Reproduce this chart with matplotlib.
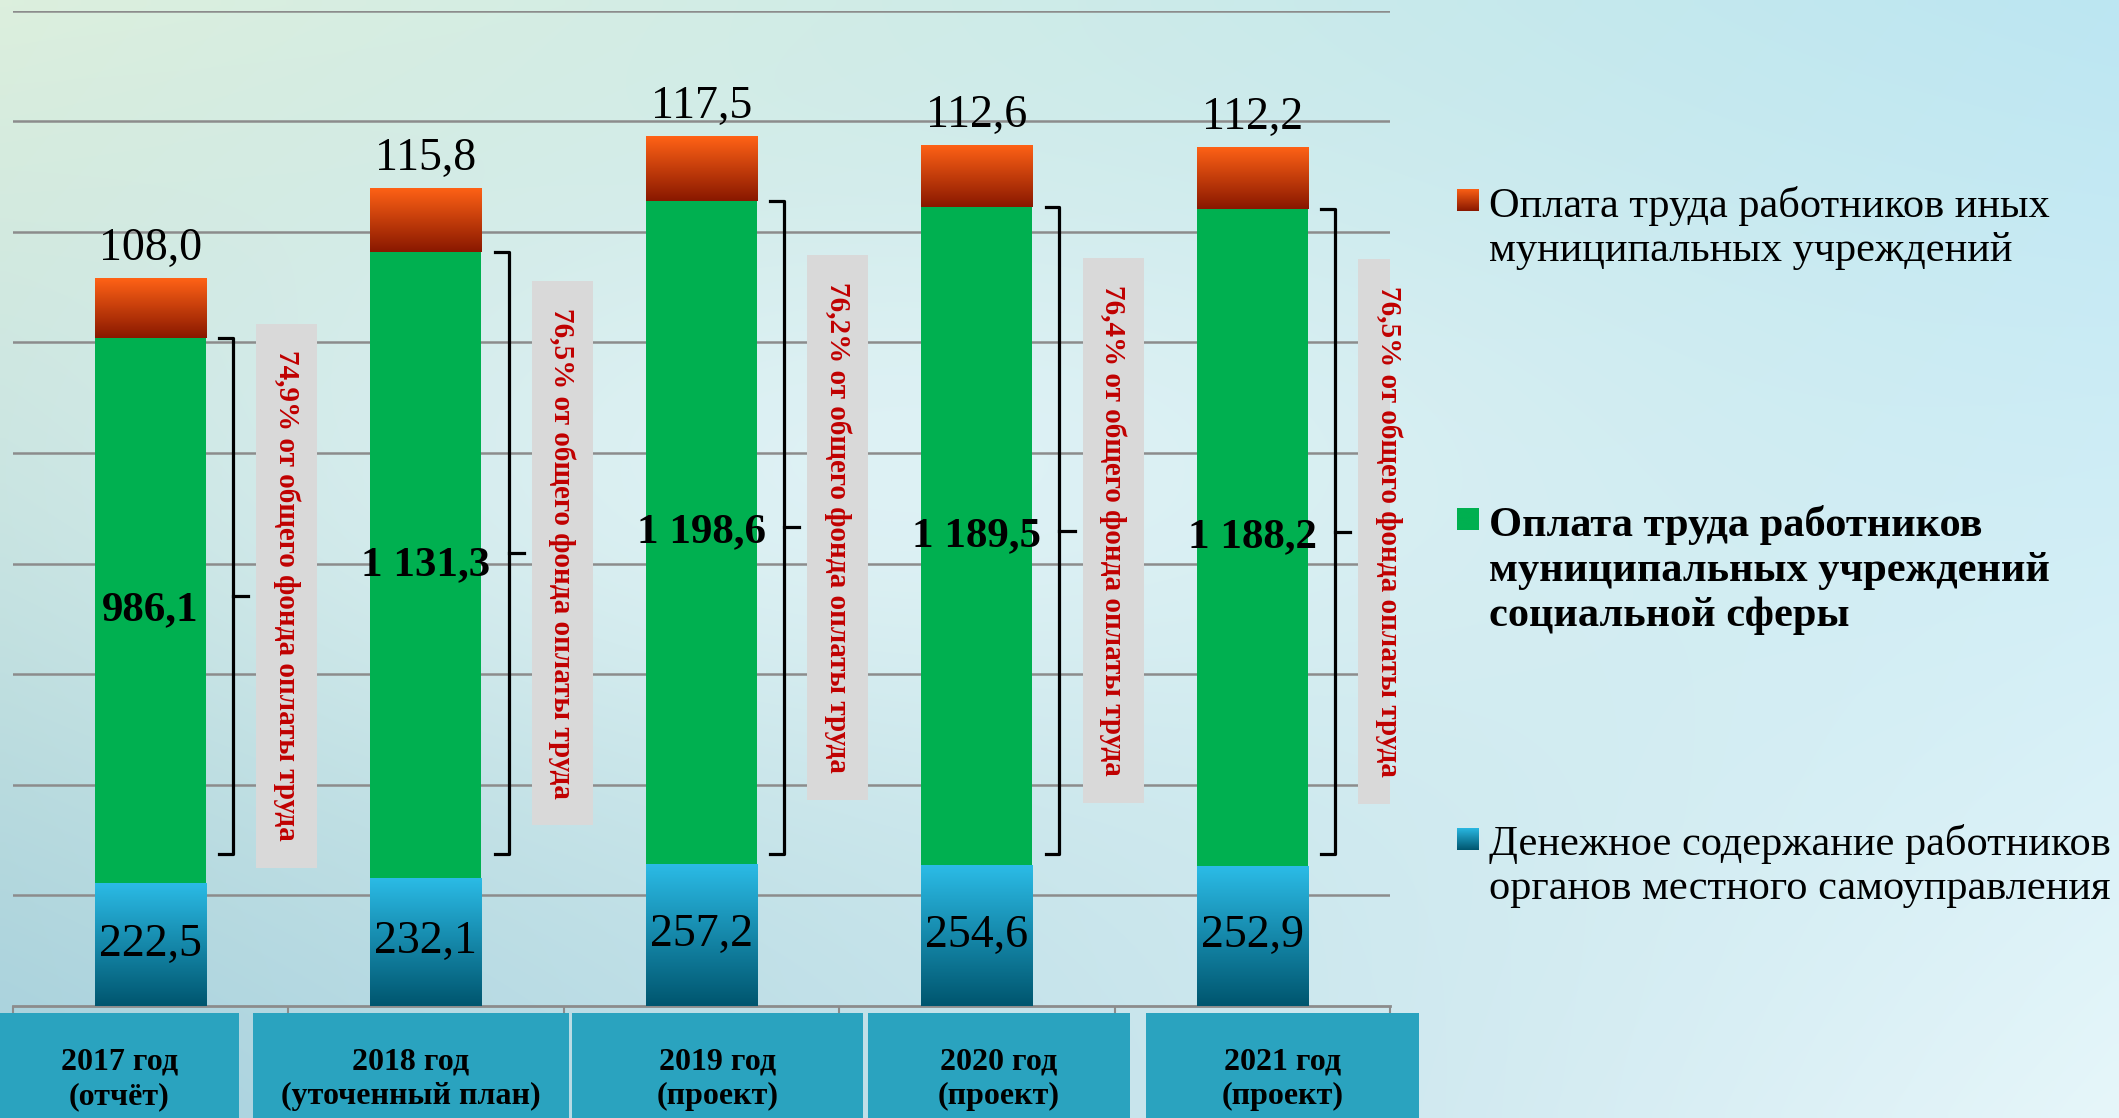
import numpy as np
import matplotlib.pyplot as plt
from matplotlib.patches import Rectangle
from matplotlib.colors import to_rgb

# data
years = ["2017 год\n(отчёт)", "2018 год\n(уточенный план)", "2019 год\n(проект)",
         "2020 год\n(проект)", "2021 год\n(проект)"]
omsu = [222.5, 232.1, 257.2, 254.6, 252.9]          # денежное содержание ОМСУ
social = [986.1, 1131.3, 1198.6, 1189.5, 1188.2]    # учреждения социальной сферы
other = [108.0, 115.8, 117.5, 112.6, 112.2]         # иные муниципальные учреждения
share = ["74,9%", "76,5%", "76,2%", "76,4%", "76,5%"]

omsu_lbl = ["222,5", "232,1", "257,2", "254,6", "252,9"]
social_lbl = ["986,1", "1 131,3", "1 198,6", "1 189,5", "1 188,2"]
other_lbl = ["108,0", "115,8", "117,5", "112,6", "112,2"]

legend_names = [
    "Оплата труда работников иных\nмуниципальных учреждений",
    "Оплата труда работников\nмуниципальных учреждений\nсоциальной сферы",
    "Денежное содержание работников\nорганов местного самоуправления",
]

SERIF = "Liberation Serif"
W, H = 2119, 1118

blue_grad = ("#2bbbe6", "#00566f")
red_grad = ("#ff6216", "#891800")
green = "#00b050"


def vgrad(top, bottom, n=64):
    t = np.linspace(0, 1, n)[:, None, None]
    return (1 - t) * np.array(to_rgb(top)) + t * np.array(to_rgb(bottom))


fig = plt.figure(figsize=(W / 100, H / 100), dpi=100)

# background
bg = fig.add_axes([0, 0, 1, 1], zorder=-10)
gx, gy = np.meshgrid(np.linspace(0, 1, 220), np.linspace(0, 1, 120))
tl, tr = np.array(to_rgb("#dcefdd")), np.array(to_rgb("#bce6f2"))
bl, br = np.array(to_rgb("#a6d0dd")), np.array(to_rgb("#e6f6fa"))
img = ((1 - gx)[..., None] * (1 - gy)[..., None] * tl + gx[..., None] * (1 - gy)[..., None] * tr
       + (1 - gx)[..., None] * gy[..., None] * bl + gx[..., None] * gy[..., None] * br)
glow = np.exp(-((gx - 0.42) ** 2 / 0.12 + (gy - 0.42) ** 2 / 0.07))[..., None]
img = img * (1 - 0.8 * glow) + 0.8 * glow * np.array(to_rgb("#e3f4f8"))
bg.imshow(img, extent=(0, 1, 0, 1), aspect="auto", origin="upper", interpolation="bilinear")
bg.set_xlim(0, 1)
bg.set_ylim(0, 1)
bg.axis("off")

ax = fig.add_axes([12.7 / W, 1 - 1006 / H, 1377.3 / W, 995.3 / H])
ax.set_facecolor("none")
x = np.arange(len(years))
bw = 0.403

b1 = ax.bar(x, omsu, bw, color=blue_grad[0], zorder=3)
b2 = ax.bar(x, social, bw, bottom=omsu, color=green, zorder=3)
base3 = np.array(omsu) + np.array(social)
b3 = ax.bar(x, other, bw, bottom=base3, color=red_grad[0], zorder=3)

for bars, (c0, c1) in ((b1, blue_grad), (b3, red_grad)):
    for p in bars:
        x0, y0 = p.get_x(), p.get_y()
        im = ax.imshow(vgrad(c0, c1), extent=(x0, x0 + p.get_width(), y0, y0 + p.get_height()),
                       origin="upper", aspect="auto", zorder=3.5, interpolation="bilinear")
        im.set_clip_path(p)

for i in x:
    ax.text(i, omsu[i] / 2, omsu_lbl[i], ha="center", va="center", fontsize=33,
            family=SERIF, zorder=5)
    ax.text(i, omsu[i] + social[i] / 2, social_lbl[i], ha="center", va="center", fontsize=31,
            family=SERIF, fontweight="bold", zorder=5)
    ax.annotate(other_lbl[i], (i, base3[i] + other[i]), xytext=(0, 6), textcoords="offset points",
                ha="center", va="bottom", fontsize=33, family=SERIF, zorder=5)

    # bracket around the social-sphere part
    top = base3[i]
    bot = 275
    mid = (top + bot) / 2
    ax.plot([i + 0.25, i + 0.30, i + 0.30, i + 0.25], [top, top, bot, bot], color="black",
            lw=2.3, solid_joinstyle="round", zorder=4)
    ax.plot([i + 0.30, i + 0.355], [mid, mid], color="black", lw=2.3, zorder=4)

    # grey box with share text
    bh = 985
    ax.add_patch(Rectangle((i + 0.385, mid - bh / 2), 0.221, bh, facecolor="#d9d9d9",
                           edgecolor="none", zorder=4))
    ax.text(i + 0.495, mid, share[i] + " от общего фонда оплаты труда", rotation=-90,
            ha="center", va="center", fontsize=21, family=SERIF, fontweight="bold",
            color="#c00000", zorder=5)

ax.set_xlim(-0.5, len(years) - 0.5)
ax.set_ylim(0, 1800)
ax.set_yticks(np.arange(200, 1801, 200))
ax.yaxis.grid(True, color="#8c8c8c", lw=1.8, zorder=0)
ax.tick_params(axis="y", length=0, labelleft=False)
ax.set_xticks([])
ax.set_xticks(np.arange(-0.5, len(years)), minor=True)
ax.tick_params(axis="x", which="minor", length=5, width=1.5, color="#8c8c8c", labelbottom=False)
for s in ("top", "right", "left"):
    ax.spines[s].set_visible(False)
ax.spines["bottom"].set_color("#8c8c8c")
ax.spines["bottom"].set_linewidth(2)

# category boxes under the axis
boxes = [(0, 239), (253, 569), (571.5, 863), (868, 1130), (1146, 1419)]
for (l, r), name in zip(boxes, years):
    fig.patches.append(Rectangle((l / W, 0), (r - l) / W, 1 - 1012.7 / H, facecolor="#2aa3bf",
                                 edgecolor="none", transform=fig.transFigure, zorder=2))
    fig.text((l + r) / 2 / W, 1 - 1079 / H, name, ha="center", va="center", fontsize=23,
             family=SERIF, fontweight="bold", linespacing=1.25, zorder=3)

# legend
leg_y = [200, 519, 839]
leg_txt_y = [228, 570, 866]
leg_grads = [red_grad, (green, green), blue_grad]
for k in range(3):
    lax = fig.add_axes([1457 / W, 1 - (leg_y[k] + 11) / H, 22 / W, 22 / H])
    lax.imshow(vgrad(*leg_grads[k]), aspect="auto", origin="upper", extent=(0, 1, 0, 1))
    lax.axis("off")
    fig.text(1489 / W, 1 - leg_txt_y[k] / H, legend_names[k], ha="left", va="center",
             fontsize=30.5, family=SERIF, fontweight="bold" if k == 1 else "normal",
             linespacing=1.22)

fig.savefig("out.png", dpi=100)
